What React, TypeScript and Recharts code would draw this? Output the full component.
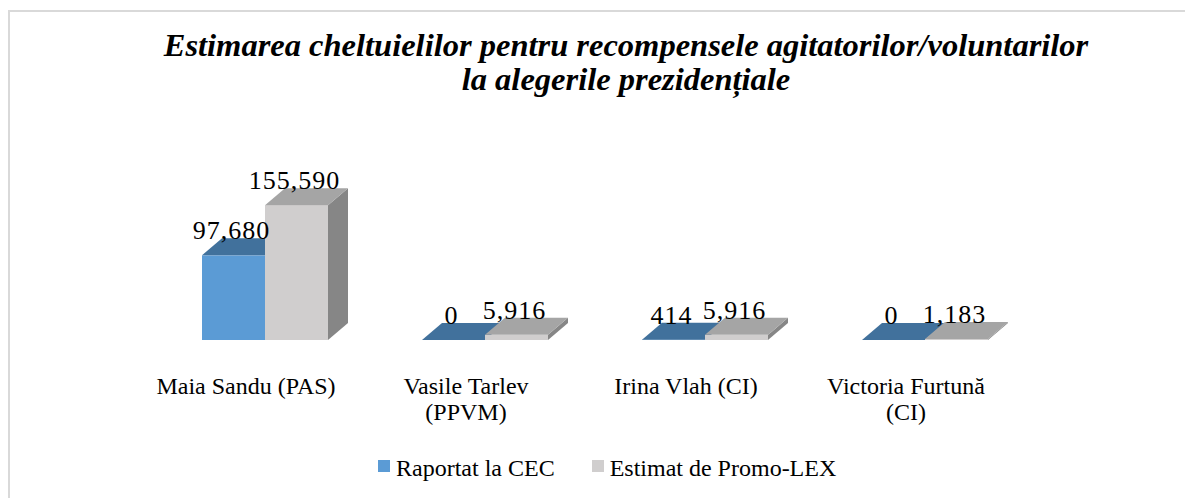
import { BarChart, Bar, XAxis, YAxis, LabelList } from 'recharts';

const categories = ['Maia Sandu (PAS)', 'Vasile Tarlev (PPVM)', 'Irina Vlah (CI)', 'Victoria Furtună (CI)'];
const tickLines = [['Maia Sandu (PAS)'], ['Vasile Tarlev', '(PPVM)'], ['Irina Vlah (CI)'], ['Victoria Furtună', '(CI)']];
const reported = [97680, 0, 414, 0];
const estimated = [155590, 5916, 5916, 1183];
const seriesNames = ['Raportat la CEC', 'Estimat de Promo-LEX'];

const data = categories.map((name, i) => ({
  name,
  reported: reported[i],
  estimated: estimated[i],
}));

const FONT = '"Liberation Serif", "Times New Roman", serif';
const DX = 20;
const DY = 17;

const BLUE = { front: '#5b9bd5', top: '#41719c', side: '#3b6a94' };
const GRAY = { front: '#d0cece', top: '#a5a5a5', side: '#868686' };

function Box3D(props: any) {
  const { x, y, width, height, faces } = props;
  const h = Math.max(0, height || 0);
  const w = width;
  return (
    <g>
      {h > 0 && <rect x={x} y={y} width={w} height={h} fill={faces.front} />}
      <polygon
        points={`${x + w},${y} ${x + w + DX},${y - DY} ${x + w + DX},${y + h - DY} ${x + w},${y + h}`}
        fill={faces.side}
      />
      <polygon
        points={`${x},${y} ${x + DX},${y - DY} ${x + w + DX},${y - DY} ${x + w},${y}`}
        fill={faces.top}
      />
    </g>
  );
}

function ValueLabel(props: any) {
  const { x, y, width, value } = props;
  return (
    <text
      x={x + width / 2 - 2}
      y={y - DY + 1}
      textAnchor="middle"
      fontFamily={FONT}
      fontSize={26}
      letterSpacing={1}
      fill="#000"
    >
      {Number(value).toLocaleString('en-US')}
    </text>
  );
}

function CategoryTick(props: any) {
  const { x, y, index } = props;
  const lines = tickLines[index] || [];
  return (
    <text x={x - 19} y={y + 54} textAnchor="middle" fontFamily={FONT} fontSize={24} fill="#000">
      {lines.map((l, i) => (
        <tspan key={i} x={x - 19} dy={i === 0 ? 0 : 26}>
          {l}
        </tspan>
      ))}
    </text>
  );
}

export default function App() {
  return (
    <div style={{ position: 'fixed', left: 8, top: 8, width: 1177, height: 490, overflow: 'hidden' }}>
      <div
        style={{
          position: 'absolute',
          left: 0,
          top: 2,
          width: 1200,
          height: 500,
          borderLeft: '2px solid #d9d9d9',
          borderTop: '2px solid #d9d9d9',
          background: '#fff',
          fontFamily: FONT,
        }}
      >
        <div
          style={{
            position: 'absolute',
            left: 116,
            top: 16,
            width: 1000,
            textAlign: 'center',
            fontSize: 32.5,
            lineHeight: '34px',
            fontWeight: 'bold',
            fontStyle: 'italic',
            color: '#000',
            whiteSpace: 'nowrap',
          }}
        >
          Estimarea cheltuielilor pentru recompensele agitatorilor/voluntarilor
          <br />
          la alegerile prezidențiale
        </div>

        <div style={{ position: 'absolute', left: 0, top: 0 }}>
          <BarChart
            width={1175}
            height={486}
            data={data}
            margin={{ top: 172, right: 150, bottom: 0, left: 145 }}
            barSize={63}
            barGap={0}
          >
            <XAxis
              dataKey="name"
              axisLine={false}
              tickLine={false}
              tickSize={0}
              tickMargin={0}
              height={158}
              interval={0}
              tick={<CategoryTick />}
            />
            <YAxis hide domain={[0, 180000]} />
            <Bar
              dataKey="reported"
              name={seriesNames[0]}
              fill={BLUE.front}
              isAnimationActive={false}
              shape={(p: any) => <Box3D {...p} faces={BLUE} />}
            >
              <LabelList dataKey="reported" content={<ValueLabel />} />
            </Bar>
            <Bar
              dataKey="estimated"
              name={seriesNames[1]}
              fill={GRAY.front}
              isAnimationActive={false}
              shape={(p: any) => <Box3D {...p} faces={GRAY} />}
            >
              <LabelList dataKey="estimated" content={<ValueLabel />} />
            </Bar>
          </BarChart>
        </div>

        <div
          style={{
            position: 'absolute',
            left: 368,
            top: 444,
            display: 'flex',
            alignItems: 'flex-start',
            fontSize: 24,
            lineHeight: '24px',
            color: '#000',
            whiteSpace: 'nowrap',
          }}
        >
          {seriesNames.map((n, i) => (
            <div key={n} style={{ display: 'flex', alignItems: 'flex-start', marginRight: i === 0 ? 37 : 0 }}>
              <span
                style={{
                  display: 'inline-block',
                  width: 12,
                  height: 12,
                  marginTop: 4,
                  marginRight: 6,
                  background: i === 0 ? BLUE.front : GRAY.front,
                }}
              />
              <span>{n}</span>
            </div>
          ))}
        </div>
      </div>
    </div>
  );
}
